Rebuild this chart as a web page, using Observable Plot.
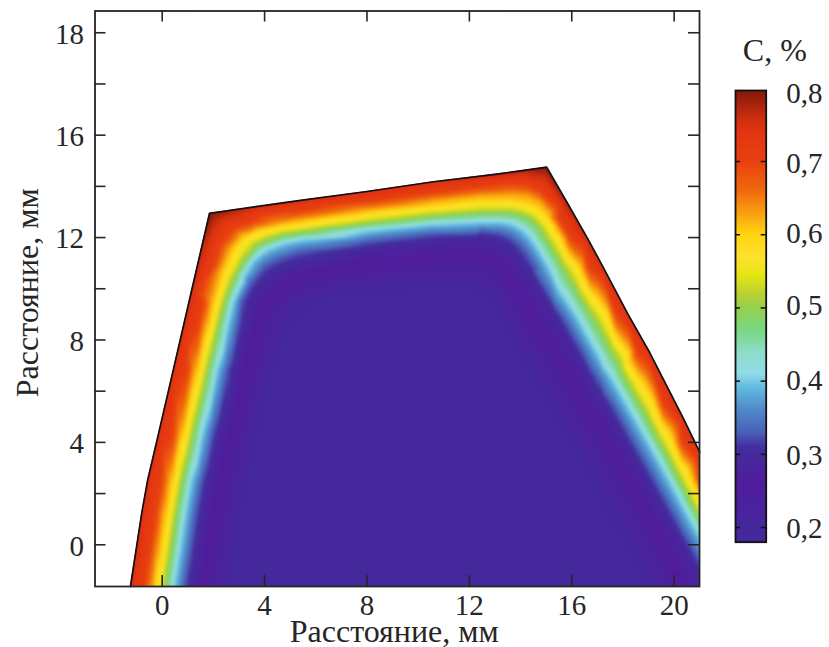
<!DOCTYPE html>
<html><head><meta charset="utf-8">
<script src="https://cdn.jsdelivr.net/npm/d3@7"></script>
<script src="https://cdn.jsdelivr.net/npm/@observablehq/plot@0.6"></script>
<style>
html,body{margin:0;padding:0;background:#fff;width:829px;height:647px;overflow:hidden}
#wrap{position:relative;width:829px;height:647px}
#main,#bar{position:absolute}
#main{left:0;top:0}
#bar{left:715px;top:20px}
svg{background:transparent!important}
</style></head><body><div id="wrap"><div id="main"></div><div id="bar"></div></div>
<script>
const xTicks=[0,4,8,12,16,20];
const yTicks=[0,4,8,12,16,20];
const yMinor=[0,2,4,6,8,10,12,14,16,18,20];
const yLabels=["0","4","8","12","16","18"];
const axisTitle="Расстояние, мм";
const barTitle="C, %";
const barTicks=[.2,.3,.4,.5,.6,.7];
const barLabels=["0,2","0,3","0,4","0,5","0,6","0,7","0,8"];
const barLabelAt=[.198,.2986,.4,.503,.6015,.697,.792];
const colorStops=[.18,.2,.23,.26,.3,.31,.33,.36,.39,.41,.44,.47,.5,.52,.545,.57,.6,.63,.66,.7,.74,.76,.797];
const colorValues=["#43289a","#44289c","#4a229c","#501c9c","#452a9c","#442ea0","#4a60b8","#5088c8","#60b8e0","#90dce8","#90dcc8","#78d880","#96d050","#bcd030","#e6e612","#ffe030","#ffd510","#f8a010","#f06a0c","#e8400f","#e33512","#cc2e10","#7f1a0a"];

const outlineX=[-2.625,-1.24,-.8,-.57,-.14,.43,1.15,1.85,5.4,8,10.6,13,15.02,15.8,16.6,17.25,18.2,19.05,20.33,21];
const outlineY=[-1.63,-1.63,1.23,2.51,4.35,6.81,9.93,12.95,13.45,13.8,14.18,14.47,14.75,13.4,12,10.8,9,7.5,5,3.62];
const edgeX=[-1.38,-1.06,-.8,-.57,-.14,.43,.84,1.15,1.5,1.85,3.5,5.4,8,10.6,13,14.3,15.02,15.8,16.6,17.25,18.2,19.05,20.33,21,21.8];
const edgeY=[-2.5,-.5,1.23,2.51,4.35,6.81,8.5,9.93,11.5,12.95,13.18,13.45,13.8,14.18,14.47,14.65,14.75,13.4,12,10.8,9,7.5,5,3.62,2];
const edgeC=[.755,.755,.75,.75,.75,.75,.75,.755,.77,.8,.76,.755,.755,.755,.765,.78,.8,.775,.76,.755,.75,.75,.75,.75,.75];

const c70x=[-.83,-.51,-.25,-.02,.41,.98,1.39,1.62,2,2.25,2.75,3.5,5.4,8,10.6,12.43,13.7,14.3,14.75,15.16,15.5,15.95,16.7,17.75,18.58,19.58,20.32,21,21.8];
const c70y=[-2.5,-.5,1.23,2.51,4.35,6.81,8.5,9.5,10.9,11.7,12.35,12.6,13.03,13.4,13.75,13.98,14.1,14.05,13.85,13.45,12.75,12,10.8,9,7.5,5.5,4,2.63,1];
const c63x=[-.56,-.24,.02,.25,.68,1.25,1.66,1.9,2.24,2.55,3,3.6,4.4,5.4,8,10.6,12.43,13.65,14.3,14.75,15.15,15.5,16.42,17.5,18.34,19.34,20.07,21,21.8];
const c63y=[-2.5,-.5,1.23,2.51,4.35,6.81,8.5,9.5,10.7,11.4,12,12.3,12.52,12.72,13.1,13.45,13.65,13.7,13.62,13.42,13,12.3,10.8,9,7.5,5.5,4,2.12,.5];
const c60x=[-.38,-.06,.2,.43,.86,1.43,1.84,2.07,2.4,2.86,3.2,3.7,4.5,5.4,8,10.6,12.43,13.6,14.2,14.66,15.05,15.3,15.57,16.32,17.43,18.22,19.24,19.96,20.69,21,21.8];
const c60y=[-2.5,-.5,1.23,2.51,4.35,6.81,8.5,9.5,10.6,11.6,12,12.25,12.43,12.55,12.95,13.25,13.45,13.45,13.35,13.17,12.8,12.45,12,10.8,9,7.5,5.5,4,2.5,1.85,.2];
const c50x=[-.03,.29,.55,.78,1.21,1.78,2.19,2.45,2.8,3.2,3.7,4.4,5.4,8,10.6,12.43,13.5,14,14.39,14.72,14.97,15.69,16.75,17.58,18.65,19.44,20.24,21,21.8];
const c50y=[-2.5,-.5,1.23,2.51,4.35,6.81,8.5,9.5,10.4,11.1,11.7,12,12.2,12.55,12.85,12.98,12.98,12.9,12.72,12.4,12,10.8,9,7.5,5.5,4,2.5,1.06,-.5];
const c40x=[.34,.66,.92,1.15,1.58,2.15,2.56,2.8,3.2,3.6,4.1,4.7,5.4,8,10.6,12.43,13.2,13.65,14.05,14.35,14.66,15.11,16.13,16.55,16.98,17.55,18.12,18.55,18.98,19.39,19.8,20.2,20.6,21,21.83];
const c40y=[-2.5,-.5,1.23,2.51,4.35,6.81,8.5,9.5,10.5,11.1,11.5,11.73,11.89,12.25,12.5,12.59,12.59,12.52,12.3,12,11.55,10.8,9,8.25,7.5,6.5,5.5,4.75,4,3.25,2.5,1.75,1,.28,-1.2];
const c33x=[.72,1.04,1.3,1.53,1.96,2.53,2.94,3.1,3.45,3.96,4.5,5.4,8,10.6,12.43,13.1,13.55,13.95,14.3,14.61,15.6,16.03,16.47,17.03,17.6,18.02,18.44,18.86,19.28,19.69,20.1,20.55,20.98,21.48];
const c33y=[-2.5,-.5,1.23,2.51,4.35,6.81,8.5,9.5,10.2,10.83,11.15,11.45,11.85,12.15,12.28,12.2,12.05,11.75,11.3,10.8,9,8.25,7.5,6.5,5.5,4.75,4,3.25,2.5,1.75,1,.2,-.6,-1.5];
const c29x=[1.02,1.34,1.6,1.83,2.26,2.83,3.24,3.5,3.85,4.4,5.4,8,10.6,12.3,13,13.6,14,14.3,15.25,15.66,16.08,16.65,17.22,17.64,18.06,18.48,18.9,19.32,19.74,20.19,20.7,21.15];
const c29y=[-2.5,-.5,1.23,2.51,4.35,6.81,8.5,9.5,10.1,10.6,11,11.5,11.8,11.95,11.85,11.5,11,10.6,9,8.25,7.5,6.5,5.5,4.75,4,3.25,2.5,1.75,1,.2,-.7,-1.5];
const c25x=[1.62,1.94,2.2,2.43,2.86,3.43,3.84,4.15,4.6,5.2,6,8,10.6,12.2,13,13.5,14.3,15.1,15.72,16.35,16.82,17.3,17.72,18.14,18.56,18.98,19.4,19.8,20.9];
const c25y=[-2.5,-.5,1.23,2.51,4.35,6.81,8.5,9.3,9.85,10.25,10.5,10.9,11.1,11.2,10.9,10.3,9,7.7,6.7,5.7,4.85,4,3.25,2.5,1.75,1,.25,-.5,-2.5];
const c20x=[2.62,2.94,3.2,3.43,3.86,4.43,4.9,5.5,6.5,8,10.6,12,12.8,13.6,14.5,15.6,16.6,17.4,18.2,19];
const c20y=[-2.5,-.5,1.23,2.51,4.35,6.81,8.2,9,9.5,9.7,9.9,9.9,9.4,7.8,6.2,4.4,2.5,1,-.5,-2];

const samples=[];
edgeX.forEach((x,i)=>samples.push({x,y:edgeY[i],c:edgeC[i]}));
[[.7,c70x,c70y],[.63,c63x,c63y],[.6,c60x,c60y],[.5,c50x,c50y],[.4,c40x,c40y],[.33,c33x,c33y],[.29,c29x,c29y],[.25,c25x,c25y],[.2,c20x,c20y]]
 .forEach(([c,xs,ys])=>xs.forEach((x,i)=>samples.push({x,y:ys[i],c})));
const outline=outlineX.map((x,i)=>({x,y:outlineY[i]}));

const font='"Liberation Serif","Times New Roman",serif';
const ink="#262626";
const color={type:"linear",domain:colorStops,range:colorValues,interpolate:"rgb",clamp:true,legend:false};
const W=604.5,H=575.5,tick=11;

const main=Plot.plot({
  width:829,height:647,marginLeft:94.5,marginRight:130,marginTop:10.5,marginBottom:61,
  style:{fontFamily:font,fontSize:"29px",color:ink,background:"transparent"},
  x:{domain:[-2.625,20.99],label:null},
  y:{domain:[-1.63,20.85],label:null},
  color,
  marks:[
    Plot.raster(samples,{x:"x",y:"y",fill:"c",interpolate:"barycentric",pixelSize:1,x1:-2.8,x2:21.2,y1:-1.85,y2:21,clip:true}),
    Plot.areaY(outline,{x:"x",y1:"y",y2:()=>20.85,fill:"white"}),
    Plot.line(outline.slice(1),{x:"x",y:"y",stroke:"#111",strokeWidth:1.7}),
    Plot.ruleX(xTicks,{x:d=>d,insetTop:H-tick,stroke:ink,strokeWidth:1.6}),
    Plot.ruleX(xTicks,{x:d=>d,insetBottom:H-tick,stroke:ink,strokeWidth:1.6}),
    Plot.ruleY(yMinor,{y:d=>d,insetRight:W-tick,stroke:ink,strokeWidth:1.6}),
    Plot.ruleY(yMinor,{y:d=>d,insetLeft:W-tick,stroke:ink,strokeWidth:1.6}),
    Plot.frame({stroke:ink,strokeWidth:1.8}),
    Plot.axisX(xTicks,{anchor:"bottom",tickSize:0,tickPadding:8,label:null,fontSize:29,fill:ink}),
    Plot.axisY(yTicks,{anchor:"left",tickSize:0,tickPadding:11,label:null,fontSize:29,fill:ink,dy:1.5,tickFormat:d=>yLabels[yTicks.indexOf(d)]}),
    Plot.text([axisTitle],{frameAnchor:"bottom",dx:-3,dy:55,fontSize:32,fill:ink,text:d=>d,lineAnchor:"bottom"}),
    Plot.text([axisTitle],{frameAnchor:"left",textAnchor:"middle",dx:-57,dy:-6,rotate:-90,fontSize:32,fill:ink,text:d=>d,lineAnchor:"bottom"})
  ]
});
document.getElementById("main").appendChild(main);
main.querySelector("image").style.filter="blur(1.5px)";

const bw=30.7,bt=5;
const bar=Plot.plot({
  width:114,height:540,marginLeft:20,marginRight:63.3,marginTop:70,marginBottom:18.3,
  style:{fontFamily:font,fontSize:"29px",color:ink,background:"transparent"},
  x:{domain:[0,1],axis:null},
  y:{domain:[.18,.797],axis:null},
  color,
  marks:[
    Plot.raster({x1:0,x2:1,y1:.18,y2:.797,width:1,height:452,fill:(x,y)=>y}),
    Plot.ruleY(barTicks,{y:d=>d,insetRight:bw-bt,stroke:"#111",strokeWidth:1.5}),
    Plot.ruleY(barTicks,{y:d=>d,insetLeft:bw-bt,stroke:"#111",strokeWidth:1.5}),
    Plot.frame({stroke:"#111",strokeWidth:1.8}),
    Plot.text(barLabels,{y:(d,i)=>barLabelAt[i],x:()=>1,dx:20,textAnchor:"start",text:d=>d,fontSize:29,fill:ink}),
    Plot.text([barTitle],{frameAnchor:"top",dx:24,dy:-52.7,fontSize:32,fill:ink,text:d=>d,lineAnchor:"top"})
  ]
});
document.getElementById("bar").appendChild(bar);
</script></body></html>
